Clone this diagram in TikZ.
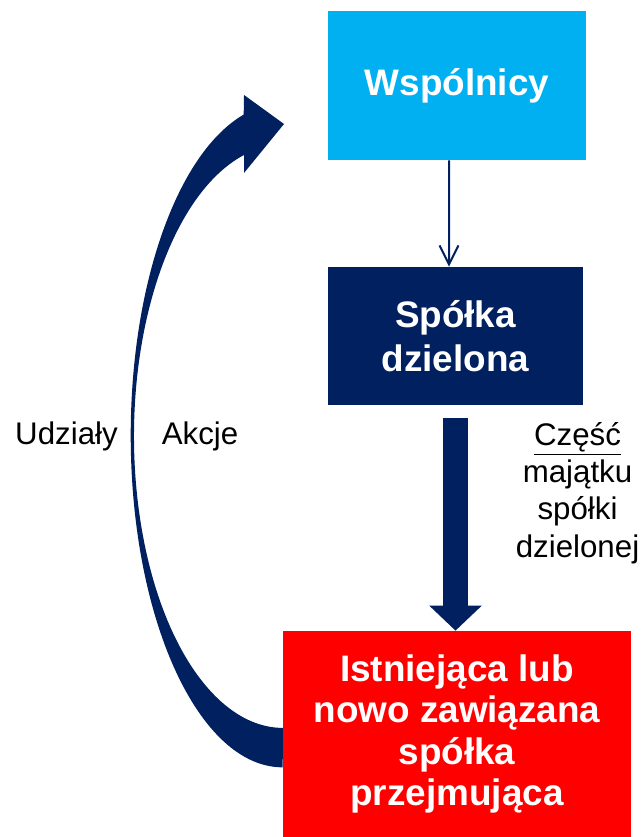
\documentclass[tikz,border=0pt]{standalone}
\usepackage{fontspec}
\setmainfont{Liberation Sans}
\usetikzlibrary{arrows.meta}
\definecolor{navy}{HTML}{002060}
\definecolor{cyanbox}{HTML}{00B0F0}
\definecolor{redbox}{HTML}{FF0000}
\begin{document}
\begin{tikzpicture}[x=0.02cm,y=0.02cm,
 box/.style={inner sep=0pt,align=center,text=white,font=\fontsize{21}{25}\selectfont\bfseries},
 lbl/.style={align=center,font=\fontsize{17.8}{21.3}\selectfont}]
 \useasboundingbox (0,0) rectangle (644,837);
 \node[box,fill=cyanbox,minimum width=5.16cm,minimum height=2.98cm] (wsp) at (457,751.5) {Wspólnicy};
 \node[box,fill=navy,minimum width=5.10cm,minimum height=2.76cm] (dz) at (455.5,501) {Spółka\\dzielona};
 \node[box,fill=redbox,minimum width=6.96cm,minimum height=4.12cm,font=\fontsize{21}{23.7}\selectfont\bfseries] (prz) at (457,103) {Istniejąca lub\\nowo zawiązana\\spółka\\przejmująca};
 \draw[navy,line width=0.04cm,-{Straight Barb[length=10.8pt,width=10.8pt]}] ([xshift=-0.16cm]wsp.south) -- ([xshift=-0.13cm]dz.north);
 \draw[navy,line width=0.5cm,-{Triangle[width=1.02cm,length=0.5cm]}] ([yshift=-0.26cm]dz.south) -- (dz.south |- prz.north);
 \fill[navy] ([yshift=1.4cm]prz.south west) arc[start angle=270,end angle=104.87,x radius=3.04cm,y radius=6.64cm]
 -- (244,742) -- (284,713) -- (244,664) -- (244,682)
 arc[start angle=105.17,end angle=270,x radius=2.98cm,y radius=5.832cm] -- cycle;
 \node[lbl,anchor=base] (udz) at (66.5,392) {Udziały};
 \node[lbl,anchor=base] (akc) at (200,392) {Akcje};
 \node[lbl] (czm) at (577.5,344) {\underline{Część}\\majątku\\spółki\\dzielonej};
\end{tikzpicture}
\end{document}
